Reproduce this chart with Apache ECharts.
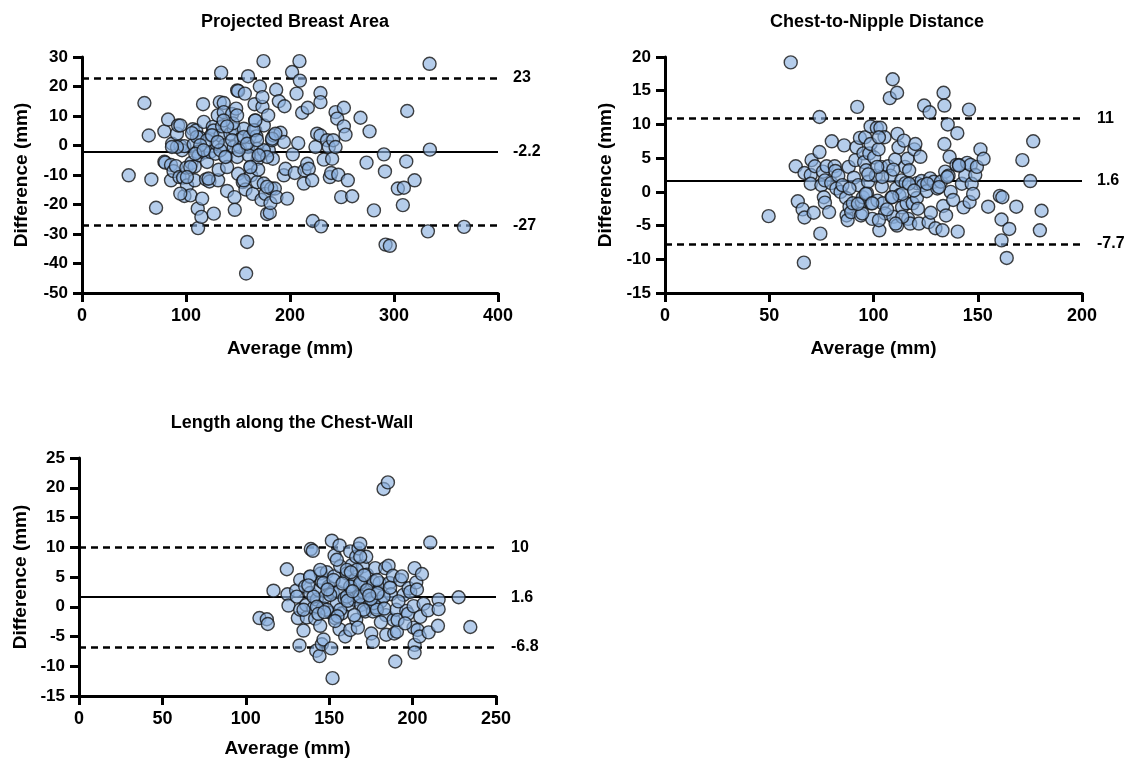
<!DOCTYPE html>
<html>
<head>
<meta charset="utf-8">
<script src="https://cdn.jsdelivr.net/npm/echarts@6/dist/echarts.min.js"></script>
<style>
html,body{margin:0;padding:0;background:#fff;}
#c{width:1131px;height:763px;}
</style>
</head>
<body>
<div id="c"></div>
<script>
// ---- Projected Breast Area ----
const pbaAvg = [44.9,60,64.2,66.7,71.2,79.2,79.2,82.8,80,85.6,86.6,85.6,88,90.3,91.3,92.4,94.6,94.6,93.7,96.2,97.2,98.5,98.5,100.4,101,104.3,105.2,106.5,107.5,108.4,108.4,109.7,110.7,112.3,111.3,111.6,113.2,114.8,115.5,116.4,117.1,117.7,119.3,120.3,122.5,123.5,124.1,125.7,126.7,126.7,128.3,129.3,130.6,130.9,131.5,132.5,133.1,133.8,134.7,136.3,136.3,137.3,138.6,139.5,142.7,144.3,145.9,145.9,146.6,146.9,148.2,149.2,150.1,149.2,150.1,151.7,153,154.6,155.6,156.6,157.2,158.8,157.8,159.7,159.7,161,162,162.6,164.2,165.9,166.5,166.5,167.6,168.4,168.4,169,169.4,171,171.6,172.6,173.5,173.5,174.5,174.8,174.8,176.4,178,179,179.6,180.6,181.2,181.9,182.8,183.5,184.4,185.4,186.7,187,189.3,190.9,194.1,194.1,194.7,195.7,197.3,202,202.7,204.6,206.3,207.9,209.1,209.5,211.7,213.3,213.9,216.5,217.1,218.1,221.3,221.9,224.5,226.1,229.3,229.3,229.3,229.9,232.5,235.7,237.3,238.3,239.6,240.5,241.5,243.8,243.8,245.4,246.4,249.2,251.8,251.8,253.4,255.6,259.8,267.8,273.6,276.5,280.7,290.3,291.3,291.9,296,303.7,309.5,308.5,311.8,312.7,319.8,332.6,334.2,334.5,367.3,110.5,120.2,133,139.5,144.3,145,155.5,160.3,174.8,178,178,104.1,100.9,94.5,136.2,149.1,139.5,113.7,91.3,105.7,108.9,117,125,130.5,137.8,150.6,158.7,165.1,168.4,169.9,182.8,186,161.9,155.5,121.7,166.7,86.5];
const pbaDiff = [-10.1,14.4,3.4,-11.5,-21.1,4.8,-5.5,8.8,-5.8,-6.6,0.6,-11.8,-8.7,-7,4.0,6.8,6.8,-0.2,-10.7,-1.6,-10.9,-17.1,-0.2,-7.5,-13.5,-16.9,-5.9,5.5,0.4,-7.1,-11.8,5.1,-2.2,-3.3,-21.4,-28,2.7,-24.2,-18,14,8,-2.3,-11.5,-5.6,-12.2,-2.2,3.4,6.3,-23.1,5.1,-2.8,0.6,10.2,-11.8,-8.2,14.7,3.4,24.7,6.5,14.4,11.3,0.1,-3.9,-15.4,4.0,10.7,5.7,-0.5,-17.5,-21.8,12.5,18.7,18.5,-3.9,-9.6,-0.5,2.3,-12.4,5.7,17.6,-14.9,-32.7,-43.4,23.5,-0.5,2.9,-7.3,-10.1,-16.4,14,8.5,5.1,3.1,-1.1,-12.4,-4.5,-8.2,20,-3.0,-18.4,13.1,16.4,28.6,6.8,-12.9,-16.4,-23.2,10.2,-1.6,-22.8,-19.5,-14.6,1.8,-4.5,3.4,-14.6,18.9,-17.5,15,4.3,1.2,-10.1,13.3,-7.9,-18,24.9,-3,-9.3,17.6,0.8,28.6,22,11.1,-12.9,-8.4,-6.2,12.8,-7.9,-11.8,-25.6,-0.5,4.0,17.8,14.7,3.4,-27.4,-4.8,1.8,-0.5,-10.7,-9.3,-4.5,1.8,11.3,-0.5,9.1,-9.9,-17.5,12.8,6.5,3.7,-11.8,-17.2,9.4,-5.8,4.8,-22,-3,-8.8,-33.6,-34,-14.6,-14.3,-20.2,-5.4,11.7,-11.8,-29.1,27.7,-1.4,-27.6,2.9,1.8,-1.6,-7.3,1.8,7.5,2.9,-3.3,-1.6,-3.9,-14,-7.3,-10.7,-16.3,8.5,10.2,6.5,0.1,-0.5,4.2,-2.8,-1.6,3.5,1.2,-3.9,-1.6,0.6,5.2,1.8,-3.3,2.3,4,-7.3,-11.8,-11.2,8.5,-0.5];
const pbaLines = [22.9, -2.2, -27.2];
const pbaLineLabels = ['23', '-2.2', '-27'];

// ---- Chest-to-Nipple Distance ----
const cndAvg = [49.7,60.3,62.7,63.7,66,66.9,66.9,66.6,70.3,69.9,69.9,71.3,71.9,74.1,74.1,74.5,75,75.8,76.2,76.7,76.7,77.5,78.7,79.7,80,81.4,81.7,82.2,83.1,84.2,85.1,85.9,86.8,87.1,87.6,88.1,88.5,89.3,90.1,90.6,91.3,91.8,92.2,92.7,93.5,94,94.4,94.9,95.2,95.5,96,96.5,96.9,97.4,98,98.6,98.6,98.9,99.4,100.3,101.1,101.6,101.9,102.4,102.8,103.3,103.6,104,104.5,105.3,105.6,107,107.8,108.2,108.7,109.2,109.5,110.4,110.9,111.3,111.5,111.3,112,112.4,113.4,113.7,114.6,115.1,115.4,115.9,116.3,116.6,117.1,117.6,118.8,119.6,120.1,120.8,120.8,121.3,121.8,122.5,123,123.8,124.3,125.5,126.4,126.9,127.2,128.9,129.7,130.6,132.3,133.1,133.6,134,134,133.4,134.4,134.8,135.6,136,136.5,137,138.2,139.8,140.2,140.4,141,142.4,143.2,144,144.9,145.8,146.1,146.6,147.1,147.8,148.8,149.6,151.3,152.8,155,160.6,161.8,161.4,161.4,163.9,165.1,168.5,171.4,175.2,176.6,179.8,180.6,102.6,104.2,109.5,102.6,113.8,101.8,113.8,110.6,117,125.8,96.3,99.4,94.6,109,131.4,135.4,141,88.5,92.5,97.5,106.5,119.5,127.5];
const cndDiff = [-3.6,19.2,3.8,-1.4,-2.6,2.8,-3.8,-10.5,4.7,2.5,1.2,-3.1,3.8,11.1,5.9,-6.2,1,3,-0.8,-1.6,1.7,3.8,-3,1.3,7.5,3.8,3.1,0.5,2.4,0,1,6.9,-0.9,-3.5,-4.2,3.7,-2.2,-3,-1.7,2.1,4.7,6.6,12.6,1,8,-3.5,-1.5,-0.8,5.7,4.4,8.1,3.2,-0.2,1.5,5.7,9.7,7.1,-1.7,-4,5.1,2.4,9.5,-1.3,6.3,-5.7,9.5,3.7,0.8,-1.7,8.1,-3.2,3.8,13.9,2.4,-0.8,16.7,-3.7,4.8,0.5,14.7,8.6,-5,6.6,-0.5,1.7,-2.3,7.6,3.7,1.3,-1.7,4.9,-4,3.2,-4.7,-1.7,6.3,7.1,-0.9,1.3,-2.5,-4.7,5.2,1.6,1,12.8,0.1,-4.5,11.8,2,1.5,-5.4,0.5,1.5,-5.7,14.7,12.8,7.1,-2.1,3,-3.5,10,2.4,5.2,0,-1.2,4,8.7,-5.9,4,1.2,-2.3,2.4,4.3,12.2,-1.5,4,1.2,-0.3,2.5,3.7,6.3,4.9,-2.2,-0.6,-0.8,-4.1,-7.2,-9.8,-5.5,-2.2,4.7,1.6,7.5,-5.7,-2.8,8.1,2.2,3.3,-4.2,-3.7,3.7,-0.3,-4.7,1.2,1.2,-0.3,-1.7,-3.2,-0.8,0.7,2.2,3.9,0.5,-1.8,2.6,-2.6,0.2,-3.1];
const cndLines = [10.9, 1.6, -7.7];
const cndLineLabels = ['11', '1.6', '-7.7'];

// ---- Length along the Chest-Wall ----
const lcwAvg = [108.2,112.6,113.2,116.6,124.6,125,125.6,130.2,130.6,131.2,132.2,132.6,132.6,134.6,135.6,136.2,136.6,138.6,138.6,139,140.2,140.6,141.6,142.2,142.6,143.6,144.2,144.6,145,145.6,145.6,146.2,146.6,147.6,148.6,149.6,150.6,151.2,151.6,152,152.2,153,153.2,153.6,154.6,155.6,156.2,156.2,156.6,157.6,158.6,159.2,159.6,160.6,161.6,162.6,162.6,163.6,164.2,165,165.6,166.2,166.2,166.6,167.2,167.6,168.2,168.6,169.2,170.2,170.6,171.6,172.2,172.6,173.6,174.6,175.2,176.2,176.2,176.6,177.6,178.2,179.2,180.2,181,182.6,183.6,184,184.2,185.2,185.6,186.2,187,188.2,188.6,189,189.6,190.2,190.6,191,192.6,193.6,194.6,196.2,197.2,197.6,198.6,200.6,200.6,201.2,201.2,201.2,202.2,202.6,203,204.2,204.6,205.6,206.6,209.2,209.6,210.6,215.6,215.6,215.2,227.6,234.6,138.6,144.6,146.6,152.6,140.6,150.6,160.6,162.6,168.6,168.6,172.6,176.6,178.6,182.6,160.6,166.6,156.6,148.6,142.6,134.6,170.6,178.6,154.6,168.6,137.5,143.5,149,155,158,163,165,171,175,181,186.5,191.5,195.5,147,161,179,153.5,183,174,164];
const lcwDiff = [-1.9,-2.1,-2.9,2.7,6.3,2.1,0.2,2.7,1.7,-1.9,-6.5,4.5,-0.5,-4,3.4,0.3,-1.8,5,2.3,9.7,9.4,-0.2,-2,-7.4,1.2,2.8,-8.3,-3.2,5.6,4.2,-6.3,-0.2,-5.5,1.7,5.8,3.4,-1,-7,11.1,-12,2.3,5.1,8.6,-1.9,0.6,2.5,10.3,-3.8,6.8,-1.1,4.2,1.4,-5,5.6,0.4,9.3,-3.9,7,3.4,1.2,4.5,-2.2,8.4,1.7,-3.5,9.8,3.7,10.6,0.3,6.8,2.4,-0.8,8.4,5.4,3.1,0.6,-4.5,-5.9,-0.8,4.2,6.5,-0.1,2.6,4,0.9,19.8,6.5,-1.4,-4.7,20.9,6.9,4,2.1,5.2,-2.2,-4.5,-9.2,-0.5,-4.2,-2.2,4.5,5.1,2,-0.7,-1.2,3.1,2.5,-3.5,0.1,6.5,-6.4,-7.7,4.1,2.9,-3.9,-5,-1.7,5.5,0.5,-0.6,-4.3,10.8,1.2,-0.4,-3.2,1.6,-3.4,5.1,6.2,4,4.5,1.7,2,1.7,3.4,4,1.7,2.8,0.6,4.5,1.7,6.2,6.2,-0.5,-0.5,0,-0.5,-0.5,-0.5,7.9,8.4,3.6,-1.2,2.9,-1.6,3.9,5.8,-1.4,5.3,1.3,-2.6,3.2,0.9,-2.8,-0.9,1.0,2.3,-2.4,-0.3,1.9,2.6];
const lcwLines = [10.0, 1.6, -6.75];
const lcwLineLabels = ['10', '1.6', '-6.8'];

const titles = ['Projected Breast Area', 'Chest-to-Nipple Distance', 'Length along the Chest-Wall'];
const xName = 'Average (mm)';
const yName = 'Difference (mm)';

const FONT = '"Liberation Sans", Arial, Helvetica, sans-serif';
const zip = (a, b) => a.map((v, i) => [v, b[i]]);

const grids = [
  {left: 82, top: 57, width: 416, height: 236},
  {left: 665, top: 57, width: 417, height: 236},
  {left: 79, top: 458, width: 417, height: 238}
];
const xCfg = [
  {min: 0, max: 400, interval: 100, nameGap: 46},
  {min: 0, max: 200, interval: 50, nameGap: 46},
  {min: 0, max: 250, interval: 50, nameGap: 43}
];
const yCfg = [
  {min: -50, max: 30, interval: 10, nameGap: 51},
  {min: -15, max: 20, interval: 5, nameGap: 50},
  {min: -15, max: 25, interval: 5, nameGap: 49}
];
const titlePos = [
  {left: 290, top: 8},
  {left: 872, top: 8},
  {left: 287, top: 409}
];

const axisLineStyle = {show: true, onZero: false, lineStyle: {color: '#000', width: 3}};
const axisTickStyle = {show: true, length: 9, lineStyle: {color: '#000', width: 3}};

const xAxes = xCfg.map((c, i) => ({
  type: 'value', gridIndex: i, min: c.min, max: c.max, interval: c.interval,
  name: xName, nameLocation: 'middle', nameGap: c.nameGap,
  nameTextStyle: {fontFamily: FONT, fontWeight: 'bold', fontSize: 19, color: '#000'},
  axisLine: axisLineStyle, axisTick: axisTickStyle,
  axisLabel: {fontFamily: FONT, fontWeight: 'bold', fontSize: 18, color: '#000', margin: 14},
  splitLine: {show: false}
}));
const yAxes = yCfg.map((c, i) => ({
  type: 'value', gridIndex: i, min: c.min, max: c.max, interval: c.interval,
  name: yName, nameLocation: 'middle', nameGap: c.nameGap,
  nameTextStyle: {fontFamily: FONT, fontWeight: 'bold', fontSize: 19, color: '#000'},
  axisLine: axisLineStyle, axisTick: axisTickStyle,
  axisLabel: {fontFamily: FONT, fontWeight: 'bold', fontSize: 17, color: '#000', margin: 14},
  splitLine: {show: false}
}));

const datasets = [zip(pbaAvg, pbaDiff), zip(cndAvg, cndDiff), zip(lcwAvg, lcwDiff)];
const lineSets = [[pbaLines, pbaLineLabels], [cndLines, cndLineLabels], [lcwLines, lcwLineLabels]];

const series = datasets.map((d, i) => ({
  type: 'scatter', xAxisIndex: i, yAxisIndex: i, data: d,
  symbol: 'circle', symbolSize: 13,
  itemStyle: {color: 'rgba(140,176,224,0.8)', borderColor: '#141414', borderWidth: 1.4},
  silent: true, z: 3,
  markLine: {
    silent: true, symbol: 'none', z: 2,
    data: lineSets[i][0].map((v, k) => ({
      yAxis: v, name: lineSets[i][1][k],
      lineStyle: k === 1 ? {type: 'solid', width: 2.2, color: '#000'} : {type: [7, 5], width: 2.5, color: '#000'}
    })),
    label: {show: true, position: 'end', formatter: '{b}', distance: 15,
      fontFamily: FONT, fontWeight: 'bold', fontSize: 16, color: '#000'},
    emphasis: {disabled: true}
  }
}));

const chart = echarts.init(document.getElementById('c'));
chart.setOption({
  animation: false,
  backgroundColor: '#fff',
  title: titles.map((t, i) => ({
    text: t, left: titlePos[i].left, top: titlePos[i].top, textAlign: 'center',
    textStyle: {fontFamily: FONT, fontWeight: 'bold', fontSize: 18, color: '#000'}
  })),
  grid: grids,
  xAxis: xAxes,
  yAxis: yAxes,
  series: series
});
</script>
</body>
</html>
